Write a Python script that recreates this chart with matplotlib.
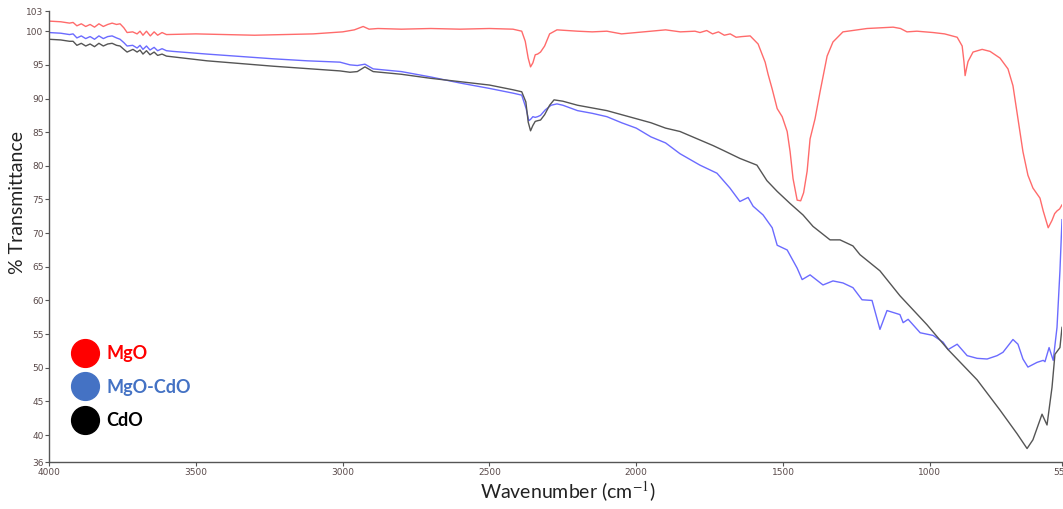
import matplotlib
matplotlib.use("Agg")
import matplotlib.pyplot as plt
from matplotlib.lines import Line2D

# ---------------- data ----------------
mgo_w = [4000, 3960, 3930, 3918, 3905, 3890, 3875, 3860, 3845, 3830,
         3815, 3800, 3785, 3770, 3758, 3745, 3734, 3715, 3700, 3690,
         3680, 3668, 3655, 3642, 3630, 3615, 3600, 3500, 3400, 3300,
         3200, 3100, 3000, 2960, 2930, 2910, 2880, 2800, 2700, 2600,
         2500, 2420, 2390, 2378, 2368, 2360, 2352, 2344, 2336, 2326,
         2312, 2295, 2270, 2200, 2150, 2100, 2050, 2000, 1950, 1900,
         1850, 1800, 1783, 1760, 1740, 1720, 1700, 1680, 1660, 1640,
         1612, 1585, 1561, 1551, 1537, 1520, 1503, 1486, 1476, 1466,
         1452, 1440, 1430, 1418, 1408, 1391, 1374, 1350, 1330, 1296,
         1214, 1125, 1100, 1078, 1044, 989, 950, 907, 890, 884,
         880, 875, 870, 853, 822, 795, 761, 734, 717, 700,
         683, 666, 649, 625, 614, 597, 584, 575, 567, 558,
         550]
mgo_t = [101.5, 101.4, 101.2, 101.3, 100.8, 101.1, 100.7, 101.0, 100.6, 101.1,
         100.7, 101.0, 101.2, 101.0, 101.1, 100.5, 99.8, 99.9, 99.6, 100.0,
         99.4, 100.0, 99.3, 99.9, 99.4, 99.8, 99.5, 99.6, 99.5, 99.4,
         99.5, 99.6, 99.9, 100.2, 100.7, 100.3, 100.4, 100.3, 100.4, 100.3,
         100.4, 100.3, 100.0, 98.5, 96.0, 94.7, 95.3, 96.5, 96.6, 96.9,
         97.8, 99.6, 100.2, 100.0, 99.9, 100.0, 99.6, 99.8, 100.0, 100.2,
         99.9, 100.0, 99.8, 100.1, 99.6, 99.9, 99.4, 99.6, 99.1, 99.2,
         99.3, 98.1, 95.4, 93.6, 91.4, 88.5, 87.3, 85.1, 82.1, 78.1,
         74.9, 74.8, 76.0, 79.2, 84.0, 87.0, 91.0, 96.3, 98.4, 99.9,
         100.4, 100.6, 100.4, 99.9, 100.0, 99.8, 99.6, 99.1, 97.8, 95.5,
         93.4, 94.5, 95.5, 96.9, 97.3, 97.0, 96.0, 94.4, 91.9, 87.0,
         82.1, 78.6, 76.7, 75.2, 73.3, 70.8, 71.9, 72.9, 73.3, 73.6,
         74.2]

mgocdo_w = [4000, 3960, 3930, 3918, 3905, 3890, 3875, 3860, 3845, 3830,
            3815, 3800, 3785, 3770, 3758, 3745, 3734, 3715, 3700, 3690,
            3680, 3668, 3656, 3642, 3630, 3615, 3600, 3578, 3462, 3237,
            3121, 3009, 2975, 2950, 2924, 2896, 2800, 2700, 2600, 2500,
            2420, 2390, 2375, 2366, 2360, 2352, 2344, 2336, 2326, 2310,
            2290, 2270, 2250, 2200, 2150, 2100, 2050, 2000, 1950, 1900,
            1851, 1783, 1725, 1681, 1647, 1619, 1602, 1568, 1537, 1520,
            1486, 1452, 1435, 1408, 1364, 1330, 1296, 1262, 1231, 1197,
            1170, 1146, 1102, 1091, 1074, 1033, 989, 955, 938, 907,
            873, 839, 805, 771, 751, 717, 700, 683, 666, 635,
            614, 608, 594, 580, 567, 557, 550]
mgocdo_t = [99.8, 99.7, 99.5, 99.6, 99.0, 99.3, 98.9, 99.2, 98.8, 99.3,
            98.9, 99.2, 99.3, 99.0, 98.8, 98.3, 97.8, 97.9, 97.5, 97.9,
            97.3, 97.8, 97.2, 97.6, 97.1, 97.4, 97.1, 97.0, 96.6, 95.9,
            95.6, 95.4, 95.0, 94.9, 95.1, 94.4, 94.0, 93.2, 92.3, 91.5,
            90.8, 90.5, 88.5, 86.7, 86.9, 87.3, 87.2, 87.3, 87.5, 88.3,
            89.0, 89.2, 89.0, 88.2, 87.8, 87.3, 86.4, 85.6, 84.3, 83.4,
            81.8, 80.1, 78.9, 76.7, 74.7, 75.3, 74.0, 72.7, 70.8, 68.2,
            67.5, 64.8, 63.1, 63.8, 62.3, 62.9, 62.6, 61.9, 60.1, 60.0,
            55.7, 58.5, 57.9, 56.7, 57.2, 55.2, 54.8, 53.8, 52.7, 53.5,
            51.8, 51.4, 51.3, 51.8, 52.3, 54.2, 53.5, 51.3, 50.1, 50.8,
            51.1, 50.9, 53.0, 51.1, 56.0, 64.4, 72.0]

cdo_w = [4000, 3960, 3930, 3918, 3905, 3890, 3875, 3860, 3845, 3830,
         3815, 3800, 3785, 3770, 3758, 3745, 3734, 3714, 3700, 3690,
         3680, 3668, 3656, 3642, 3630, 3615, 3600, 3462, 3237, 3009,
         2975, 2950, 2924, 2896, 2800, 2700, 2600, 2500, 2420, 2390,
         2376, 2368, 2360, 2352, 2344, 2336, 2326, 2312, 2295, 2280,
         2250, 2200, 2150, 2100, 2050, 2000, 1950, 1900, 1851, 1738,
         1704, 1647, 1589, 1555, 1520, 1476, 1432, 1398, 1340, 1306,
         1262, 1238, 1170, 1102, 1010, 938, 839, 761, 703, 669,
         649, 618, 601, 584, 574, 557, 550]
cdo_t = [98.8, 98.7, 98.5, 98.5, 97.9, 98.2, 97.8, 98.1, 97.7, 98.2,
         97.8, 98.1, 98.2, 97.9, 97.8, 97.3, 96.9, 97.3, 96.9, 97.2,
         96.6, 97.1, 96.5, 96.9, 96.4, 96.6, 96.3, 95.6, 94.8, 94.1,
         93.9, 94.0, 94.7, 94.0, 93.6, 93.0, 92.5, 92.0, 91.3, 91.0,
         89.5, 86.5, 85.2, 86.0, 86.6, 86.7, 86.8, 87.6, 89.0, 89.8,
         89.6, 89.0, 88.6, 88.2, 87.6, 87.0, 86.4, 85.6, 85.1, 83.0,
         82.3, 81.1, 80.1, 77.8, 76.2, 74.4, 72.7, 71.0, 69.0, 69.0,
         68.1, 66.8, 64.4, 60.7, 56.4, 52.7, 48.2, 43.7, 40.2, 38.0,
         39.3, 43.1, 41.5, 47.1, 52.0, 53.0, 56.0]

legend_labels = ["MgO", "MgO-CdO", "CdO"]
legend_colors = ["#FF0000", "#4472C4", "#000000"]
line_colors = ["#FF6B6B", "#6B6BFF", "#555555"]

x_ticks = [4000, 3500, 3000, 2500, 2000, 1500, 1000, 550]
y_ticks = [36, 40, 45, 50, 55, 60, 65, 70, 75, 80, 85, 90, 95, 100, 103]

# ---------------- plot ----------------
plt.rcParams["mathtext.fontset"] = "stix"
fig = plt.figure(figsize=(10.63, 5.09), dpi=100)
ax = fig.add_axes([49 / 1063, 1 - 462 / 509, 1013 / 1063, 451 / 509])

ax.plot(mgo_w, mgo_t, color=line_colors[0], lw=1.0)
ax.plot(mgocdo_w, mgocdo_t, color=line_colors[1], lw=1.0)
ax.plot(cdo_w, cdo_t, color=line_colors[2], lw=1.0)

ax.set_xlim(4000, 550)
ax.set_ylim(36, 103)
ax.set_xticks(x_ticks)
ax.set_yticks(y_ticks)
ax.tick_params(axis="both", labelsize=6.5, labelcolor="#5a4a4a", length=3, width=0.8,
               color="#555555", pad=1)
for s in ["top", "right"]:
    ax.spines[s].set_visible(False)
for s in ["left", "bottom"]:
    ax.spines[s].set_color("#555555")
    ax.spines[s].set_linewidth(1.0)

fig.text(18 / 1063, 1 - 203 / 509, "% Transmittance", rotation=90, ha="center", va="center",
         fontsize=14, family="Lato", color="#222222")
fig.text(568 / 1063, 1 - 492 / 509, r"Wavenumber (cm$^{-1}$)", ha="center", va="center",
         fontsize=14, family="Lato", color="#222222")

# legend
handles = [Line2D([0], [0], marker="o", color="none", markerfacecolor=c, markeredgecolor=c,
                  markersize=20) for c in legend_colors]
leg = ax.legend(handles, legend_labels, loc="upper left", bbox_to_anchor=(0.005, 0.2956),
                frameon=False, handletextpad=0.4, labelspacing=0.92,
                prop={"family": "Lato", "weight": "bold", "size": 13}, handlelength=1.6)
for t, c in zip(leg.get_texts(), legend_colors):
    t.set_color(c)

fig.savefig("out.png", dpi=100)
